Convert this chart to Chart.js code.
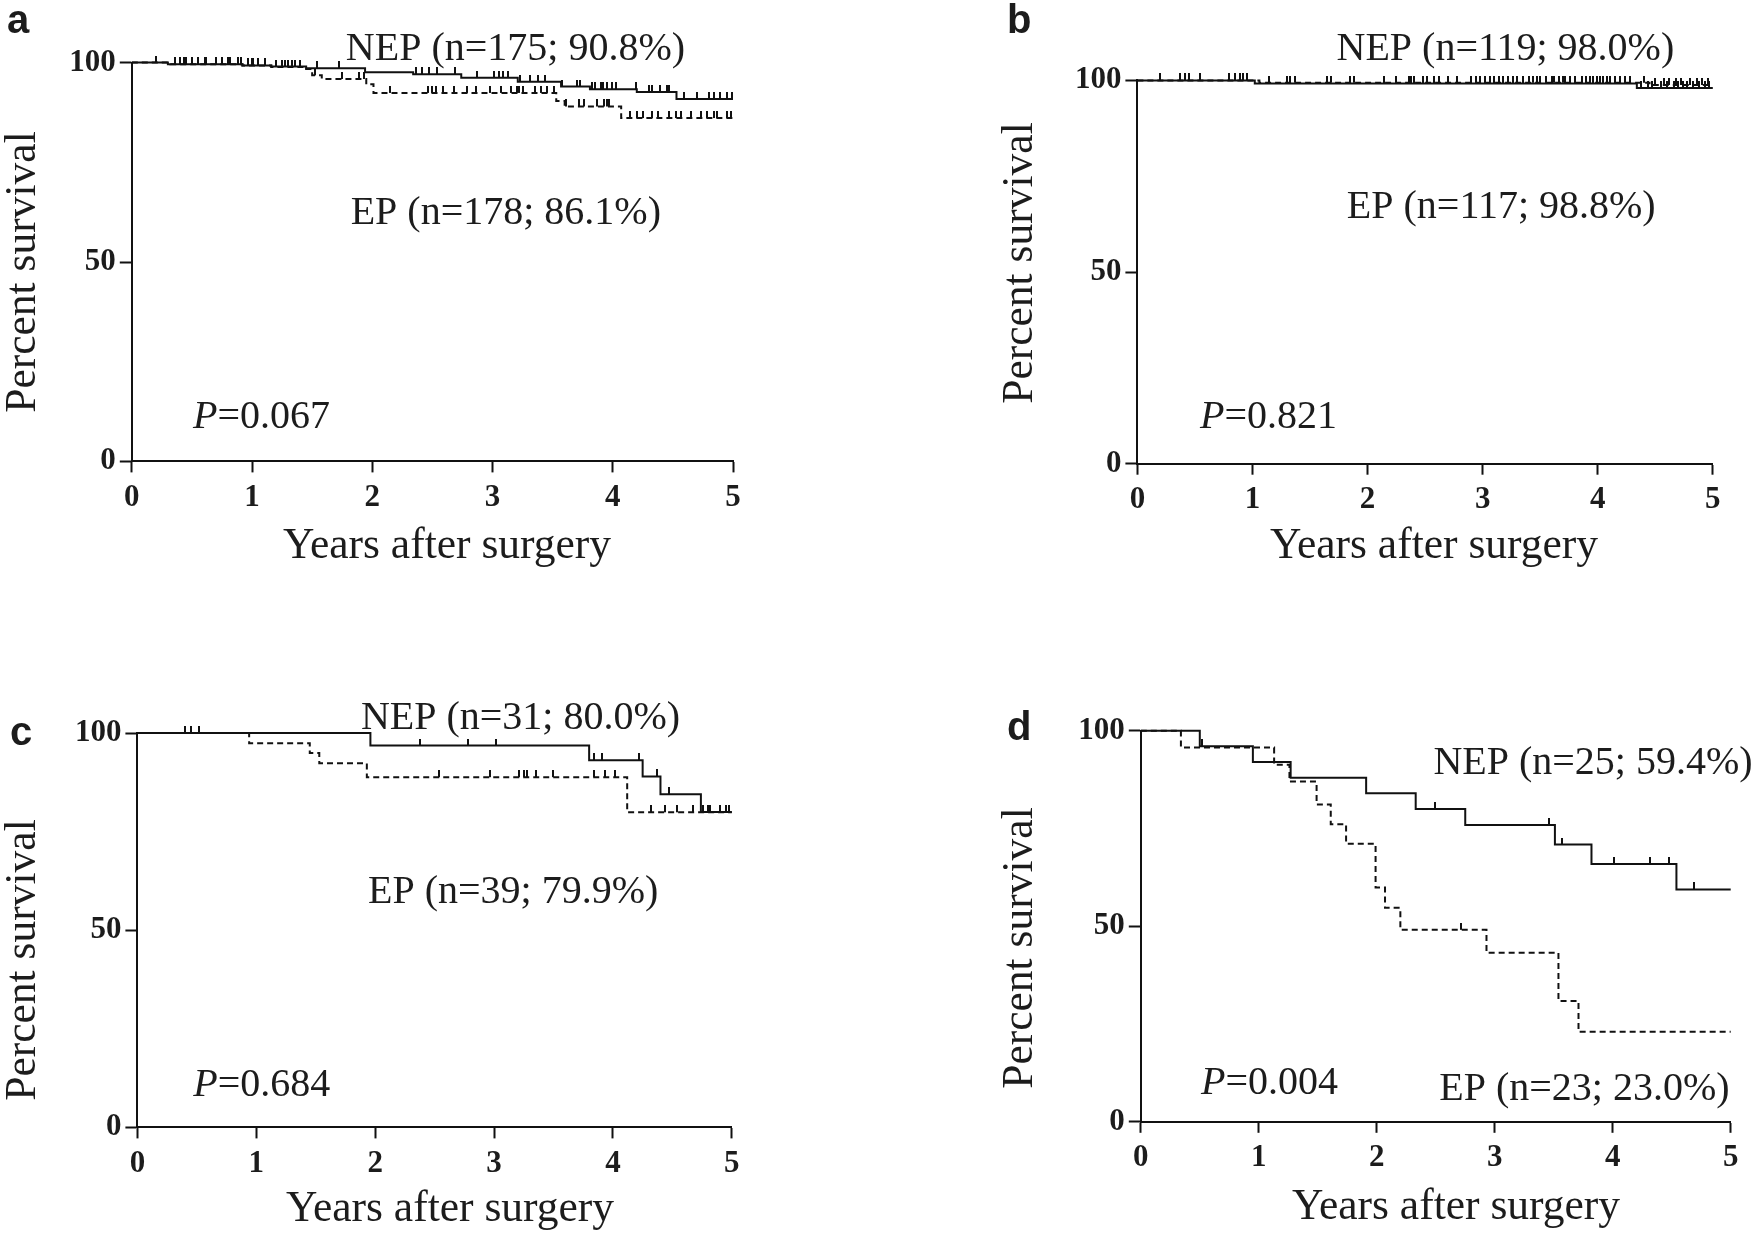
<!DOCTYPE html>
<html>
<head>
<meta charset="utf-8">
<script src="https://cdn.jsdelivr.net/npm/chart.js@4.4.1/dist/chart.umd.min.js"></script>
<style>
  html, body { margin: 0; padding: 0; background: #fff; }
  #wrap { position: relative; width: 1752px; height: 1236px; overflow: hidden; }
  #wrap canvas { position: absolute; }
</style>
</head>
<body>
<div id="wrap">
  <canvas id="panelA" width="876" height="618" style="left:0px;top:0px"></canvas>
  <canvas id="panelB" width="876" height="618" style="left:876px;top:0px"></canvas>
  <canvas id="panelC" width="876" height="618" style="left:0px;top:618px"></canvas>
  <canvas id="panelD" width="876" height="618" style="left:876px;top:618px"></canvas>
</div>
<script>
// Axis ticks
const xTicks = [0, 1, 2, 3, 4, 5];
const yTicks = [0, 50, 100];

// Panel a - event times (years) and survival (%) after each step, censor times
const aNepTimes = [0, 0.30, 0.92, 1.16, 1.45, 1.94, 2.34, 2.74, 3.21, 3.57, 3.81, 4.20, 4.53, 5];
const aNepSurv = [100, 99.6, 99.3, 99.0, 98.6, 97.6, 97.1, 96.2, 95.2, 94.0, 93.3, 92.6, 90.9, 90.9];
const aNepCensor = [0.20, 0.36, 0.43, 0.50, 0.61, 0.75, 0.82, 0.91, 0.97, 1.01, 1.05, 1.11, 1.25, 1.30, 1.36,
    1.54, 1.72, 2.36, 2.41, 2.47, 2.54, 2.69, 2.87, 3.01, 3.05, 3.09, 3.13, 3.23, 3.31, 3.38, 3.44, 3.58,
    3.70, 3.73, 3.83, 3.85, 3.90, 3.92, 3.95, 3.99, 4.03, 4.19, 4.30, 4.33, 4.39, 4.45, 4.47, 4.59, 4.70,
    4.80, 4.84, 4.89, 4.95, 4.99];
const aEpTimes = [0, 0.32, 0.92, 1.16, 1.45, 1.50, 1.58, 1.95, 2.01, 3.53, 3.60, 4.07, 5];
const aEpSurv = [100, 99.6, 99.3, 98.9, 98.4, 96.8, 95.9, 94.6, 92.4, 90.4, 89.0, 86.1, 86.1];
const aEpCensor = [0.40, 0.45, 0.55, 0.62, 0.70, 0.80, 0.88, 1.00, 1.20, 1.27, 1.33, 1.40, 1.52, 1.75, 1.89,
    1.93, 2.15, 2.46, 2.50, 2.53, 2.59, 2.68, 2.79, 2.86, 2.98, 3.07, 3.15, 3.20, 3.22, 3.25, 3.35, 3.40,
    3.45, 3.51, 3.61, 3.72, 3.76, 3.87, 3.93, 3.95, 3.97, 4.14, 4.20, 4.25, 4.33, 4.38, 4.47, 4.53, 4.57,
    4.65, 4.73, 4.78, 4.84, 4.87, 4.95, 4.98];

// Panel b
const bNepTimes = [0, 1.02, 4.34, 5];
const bNepSurv = [100, 99.2, 98.0, 98.0];
const bNepCensor = [0.20, 0.37, 0.41, 0.45, 0.54, 0.80, 0.85, 0.89, 0.92, 0.95, 2.14, 2.25, 2.36, 2.38, 2.40,
    2.48, 2.52, 2.58, 2.90, 2.94, 2.98, 3.02, 3.06, 3.10, 3.14, 3.18, 3.22, 3.26, 3.30, 3.35, 3.40, 3.50,
    3.60, 3.66, 3.72, 3.80, 3.86, 3.90, 3.93, 3.96, 3.99, 4.02, 4.05, 4.08, 4.11, 4.15, 4.19, 4.24, 4.38,
    4.44, 4.47, 4.55, 4.60, 4.66, 4.70, 4.74, 4.78, 4.83, 4.88, 4.93, 4.97];
const bEpTimes = [0, 1.06, 4.45, 5];
const bEpSurv = [100, 99.4, 98.8, 98.8];
const bEpCensor = [1.14, 1.30, 1.33, 1.37, 1.65, 1.68, 1.85, 1.88, 2.62, 2.70, 2.78, 3.44, 3.47, 3.55, 3.62,
    3.70, 3.76, 4.28, 4.40, 4.50, 4.58, 4.62, 4.68, 4.72, 4.80, 4.86, 4.91, 4.96];

// Panel c
const cNepTimes = [0, 1.96, 3.80, 4.25, 4.40, 4.74, 5];
const cNepSurv = [100, 96.8, 93.1, 89.0, 84.5, 80.0, 80.0];
const cNepCensor = [0.40, 0.45, 0.52, 2.38, 2.78, 3.02, 3.84, 3.91, 4.22, 4.37, 4.47, 4.76, 4.80, 4.90, 4.98];
const cEpTimes = [0, 0.94, 1.45, 1.53, 1.93, 4.12, 5];
const cEpSurv = [100, 97.4, 94.9, 92.3, 88.8, 79.9, 79.9];
const cEpCensor = [2.54, 2.97, 3.21, 3.25, 3.28, 3.35, 3.50, 3.84, 3.93, 4.02, 4.32, 4.44, 4.54, 4.67, 4.82, 4.95];

// Panel d
const dNepTimes = [0, 0.50, 0.95, 1.27, 1.91, 2.33, 2.75, 3.51, 3.82, 4.54, 5];
const dNepSurv = [100, 96.0, 92.0, 88.0, 84.0, 80.0, 75.9, 70.9, 65.9, 59.4, 59.4];
const dNepCensor = [0.52, 2.49, 3.46, 3.57, 4.01, 4.32, 4.48, 4.69];
const dEpTimes = [0, 0.34, 1.13, 1.26, 1.49, 1.61, 1.74, 1.99, 2.07, 2.20, 2.93, 3.54, 3.71, 5];
const dEpSurv = [100, 95.7, 91.3, 87.0, 81.1, 76.1, 71.1, 59.9, 54.7, 49.1, 43.2, 30.9, 23.0, 23.0];
const dEpCensor = [2.71];

const serif = '"Liberation Serif", "Times New Roman", serif';
const sans = '"Liberation Sans", Arial, sans-serif';
const ink = '#1c1c1c';

// Survival value of a step curve at time t
function survAt(times, surv, t) {
    let v = surv[0];
    for (let i = 0; i < times.length; i++) {
        if (times[i] <= t) v = surv[i];
    }
    return v;
}

// Small upward tick used as censor mark
function censorMark(h) {
    const c = document.createElement('canvas');
    c.width = 2;
    c.height = h * 2;
    const g = c.getContext('2d');
    g.fillStyle = '#111';
    g.fillRect(0, 0, 2, h);
    return c;
}
const tickMark = censorMark(7);

// Draw panel letter, axis titles and the text notes
const notesPlugin = {
    id: 'notes',
    afterDraw(chart, args, opts) {
        const ctx = chart.ctx;
        const xs = chart.scales.x;
        const ys = chart.scales.y;
        ctx.save();
        ctx.fillStyle = ink;
        ctx.textBaseline = 'alphabetic';
        ctx.textAlign = 'left';
        ctx.font = 'bold 40px ' + sans;
        ctx.fillText(opts.letter, opts.letterPos[0], opts.letterPos[1]);

        // axis titles
        ctx.font = '43.5px ' + serif;
        ctx.textAlign = 'center';
        ctx.textBaseline = 'middle';
        ctx.fillText('Years after surgery', opts.xTitle[0], opts.xTitle[1]);
        ctx.save();
        ctx.translate(opts.yTitle[0], opts.yTitle[1]);
        ctx.rotate(-Math.PI / 2);
        ctx.fillText('Percent survival', 0, 0);
        ctx.restore();

        ctx.textAlign = 'left';
        ctx.textBaseline = 'alphabetic';
        opts.notes.forEach(n => {
            let px = xs.getPixelForValue(n.x);
            const py = ys.getPixelForValue(n.y);
            if (n.italic) {
                ctx.font = 'italic 40px ' + serif;
                ctx.fillText(n.italic, px, py);
                px += ctx.measureText(n.italic).width;
            }
            ctx.font = '40px ' + serif;
            ctx.fillText(n.text, px, py);
        });
        ctx.restore();
    }
};

function makePanel(id, cfg) {
    const datasets = [];
    cfg.groups.forEach(g => {
        datasets.push({
            type: 'line',
            data: g.times.map((t, i) => ({ x: t, y: g.surv[i] })),
            stepped: 'before',
            borderColor: '#111',
            borderWidth: 2,
            borderDash: g.dashed ? [6, 4] : [],
            pointRadius: 0,
            fill: false,
            clip: false
        });
        datasets.push({
            type: 'scatter',
            data: g.censor.map(t => ({ x: t, y: survAt(g.times, g.surv, t) })),
            pointStyle: tickMark,
            pointRadius: 3,
            clip: false
        });
    });

    new Chart(document.getElementById(id), {
        data: { datasets: datasets },
        options: {
            responsive: false,
            animation: false,
            events: [],
            layout: { padding: cfg.padding },
            plugins: {
                legend: { display: false },
                tooltip: { enabled: false },
                notes: {
                    letter: cfg.letter, letterPos: cfg.letterPos,
                    xTitle: cfg.xTitle, yTitle: cfg.yTitle, notes: cfg.notes
                }
            },
            scales: {
                x: {
                    type: 'linear',
                    min: 0,
                    max: 5,
                    afterBuildTicks: s => { s.ticks = xTicks.map(v => ({ value: v })); },
                    afterFit: s => { s.height = cfg.xAxisH; },
                    grid: { display: true, drawOnChartArea: false, drawTicks: true, tickLength: 11, tickWidth: 2, tickColor: '#111' },
                    border: { display: true, color: '#111', width: 2 },
                    ticks: { font: { family: serif, size: 31, weight: 'bold', lineHeight: 1 }, color: ink, padding: 10, maxRotation: 0, autoSkip: false }
                },
                y: {
                    type: 'linear',
                    min: 0,
                    max: 100,
                    afterBuildTicks: s => { s.ticks = yTicks.map(v => ({ value: v })); },
                    afterFit: s => { s.width = cfg.yAxisW; },
                    grid: { display: true, drawOnChartArea: false, drawTicks: true, tickLength: 12, tickWidth: 2, tickColor: '#111' },
                    border: { display: true, color: '#111', width: 2 },
                    ticks: { font: { family: serif, size: 31, weight: 'bold', lineHeight: 1 }, color: ink, padding: 4 }
                }
            }
        },
        plugins: [notesPlugin]
    });
}

makePanel('panelA', {
    letter: 'a', letterPos: [7, 33],
    xTitle: [447, 547], yTitle: [24, 272],
    padding: { left: 3, top: 62.6, right: 143, bottom: 50 },
    yAxisW: 128.8, xAxisH: 106.6,
    groups: [
        { times: aNepTimes, surv: aNepSurv, censor: aNepCensor, dashed: false },
        { times: aEpTimes, surv: aEpSurv, censor: aEpCensor, dashed: true }
    ],
    notes: [
        { x: 1.78, y: 100.65, text: 'NEP (n=175; 90.8%)' },
        { x: 1.82, y: 59.65, text: 'EP (n=178; 86.1%)' },
        { x: 0.51, y: 8.4, italic: 'P', text: '=0.067' }
    ]
});

makePanel('panelB', {
    letter: 'b', letterPos: [131, 33],
    xTitle: [558, 547], yTitle: [145, 263],
    padding: { left: 124, top: 80.4, right: 39.2, bottom: 50 },
    yAxisW: 137.4, xAxisH: 104.3,
    groups: [
        { times: bNepTimes, surv: bNepSurv, censor: bNepCensor, dashed: false },
        { times: bEpTimes, surv: bEpSurv, censor: bEpCensor, dashed: true }
    ],
    notes: [
        { x: 1.73, y: 105.3, text: 'NEP (n=119; 98.0%)' },
        { x: 1.82, y: 64.1, text: 'EP (n=117; 98.8%)' },
        { x: 0.545, y: 9.3, italic: 'P', text: '=0.821' }
    ]
});

makePanel('panelC', {
    letter: 'c', letterPos: [10, 127],
    xTitle: [450, 592], yTitle: [24, 342],
    padding: { left: 3, top: 115, right: 144.2, bottom: 5 },
    yAxisW: 134.4, xAxisH: 103.6,
    groups: [
        { times: cNepTimes, surv: cNepSurv, censor: cNepCensor, dashed: false },
        { times: cEpTimes, surv: cEpSurv, censor: cEpCensor, dashed: true }
    ],
    notes: [
        { x: 1.88, y: 101.0, text: 'NEP (n=31; 80.0%)' },
        { x: 1.94, y: 56.9, text: 'EP (n=39; 79.9%)' },
        { x: 0.47, y: 7.9, italic: 'P', text: '=0.684' }
    ]
});

makePanel('panelD', {
    letter: 'd', letterPos: [131, 122],
    xTitle: [580, 590], yTitle: [145, 330],
    padding: { left: 124, top: 112.7, right: 21.3, bottom: 7 },
    yAxisW: 140.8, xAxisH: 107.2,
    groups: [
        { times: dNepTimes, surv: dNepSurv, censor: dNepCensor, dashed: false },
        { times: dEpTimes, surv: dEpSurv, censor: dEpCensor, dashed: true }
    ],
    notes: [
        { x: 2.48, y: 88.9, text: 'NEP (n=25; 59.4%)' },
        { x: 2.53, y: 5.6, text: 'EP (n=23; 23.0%)' },
        { x: 0.51, y: 7.1, italic: 'P', text: '=0.004' }
    ]
});
</script>
</body>
</html>
